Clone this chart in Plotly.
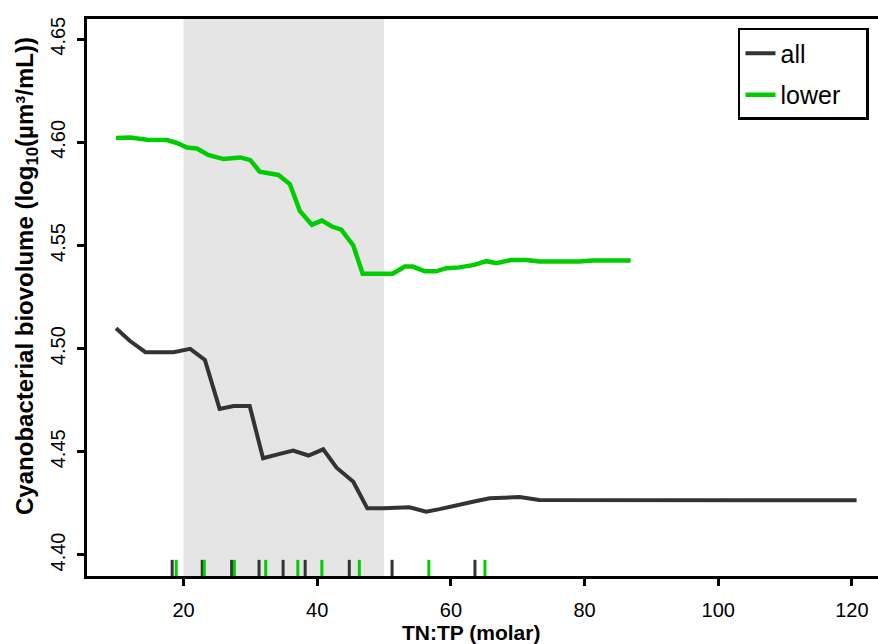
import plotly.graph_objects as go

# ---- data ----
all_x = [9.9, 12.0, 14.3, 18.5, 21.0, 23.2, 25.4, 27.5, 29.9, 31.9, 34.4, 36.4, 38.7,
         40.9, 42.9, 45.4, 47.5, 49.9, 53.8, 56.3, 58.3, 60.8, 63.3, 65.8, 67.3, 70.3,
         73.2, 120.7]
all_y = [4.5099, 4.5037, 4.4983, 4.4983, 4.4999, 4.4945, 4.4708, 4.4722, 4.4722, 4.4469,
         4.4490, 4.4506, 4.4482, 4.4512, 4.4423, 4.4355, 4.4226, 4.4226, 4.4231, 4.4210,
         4.4222, 4.4242, 4.4258, 4.4275, 4.4278, 4.4281, 4.4267, 4.4265]

lower_x = [9.9, 12.0, 14.5, 17.5, 19.0, 20.5, 22.0, 23.7, 26.0, 28.5, 30.0, 31.4, 34.2,
           35.9, 37.4, 39.2, 40.7, 42.2, 43.6, 45.4, 46.8, 51.3, 53.1, 54.3, 56.1, 57.8,
           59.3, 61.3, 63.5, 65.3, 66.8, 69.0, 71.3, 73.2, 79.2, 81.2, 86.9]
lower_y = [4.6021, 4.6024, 4.6013, 4.6011, 4.5997, 4.5975, 4.5970, 4.5939, 4.5919, 4.5927,
           4.5914, 4.5858, 4.5842, 4.5798, 4.5668, 4.5601, 4.5621, 4.5592, 4.5577, 4.5500,
           4.5363, 4.5363, 4.5398, 4.5398, 4.5375, 4.5375, 4.5390, 4.5394, 4.5406, 4.5424,
           4.5414, 4.5430, 4.5430, 4.5422, 4.5422, 4.5427, 4.5427]

rug_all = [18.3, 22.8, 27.2, 31.3, 34.9, 38.2, 44.8, 51.2, 63.6]
rug_lower = [18.9, 23.1, 27.6, 32.3, 37.1, 40.7, 46.3, 56.7, 65.1]

shade_range = [20, 50]

x_ticks = [20, 40, 60, 80, 100, 120]
y_ticks = [4.40, 4.45, 4.50, 4.55, 4.60, 4.65]

series_names = ["all", "lower"]

GRAY = "#333333"
GREEN = "#00CD00"
FONT = "Liberation Sans, Arial, sans-serif"
PAD = "\u00a0\u00a0\u00a0"

fig = go.Figure()

fig.add_vrect(x0=shade_range[0], x1=shade_range[1], fillcolor="#E5E5E5",
              line_width=0, layer="below")

for xv in rug_all:
    fig.add_shape(type="line", xref="x", yref="y domain", x0=xv, x1=xv, y0=0, y1=0.029,
                  line=dict(color=GRAY, width=3))
for xv in rug_lower:
    fig.add_shape(type="line", xref="x", yref="y domain", x0=xv, x1=xv, y0=0, y1=0.029,
                  line=dict(color=GREEN, width=3))

fig.add_trace(go.Scatter(x=all_x, y=all_y, mode="lines", name=series_names[0], legendgroup="a",
                         line=dict(color=GRAY, width=4)))
fig.add_trace(go.Scatter(x=lower_x, y=lower_y, mode="lines", name=series_names[1] + PAD,
                         legendgroup="b", line=dict(color=GREEN, width=4.5)))

fig.update_layout(
    width=878, height=644,
    margin=dict(l=87, r=0, t=19, b=68, autoexpand=False),
    plot_bgcolor="white", paper_bgcolor="white",
    font=dict(family=FONT, size=20, color="black"),
    showlegend=True,
    legend=dict(x=0.823, y=0.984, xanchor="left", yanchor="top",
                bordercolor="black", borderwidth=2.5, bgcolor="white",
                font=dict(size=25), tracegroupgap=6),
)

fig.update_xaxes(range=[5.56, 123.9], tickvals=x_ticks, ticktext=[str(v) for v in x_ticks],
                 showgrid=False, zeroline=False, showline=True, linecolor="black",
                 linewidth=2.5, mirror=True, ticks="outside", ticklen=7, tickwidth=2.5,
                 tickcolor="black", ticklabelstandoff=7, automargin=False)
fig.update_yaxes(range=[4.3898, 4.6598], tickvals=y_ticks,
                 ticktext=[f"{v:.2f}" for v in y_ticks],
                 showgrid=False, zeroline=False, showline=True, linecolor="black",
                 linewidth=2.5, ticks="outside", ticklen=7, tickwidth=2.5,
                 tickcolor="black", tickangle=-90, ticklabelstandoff=4, automargin=False)

fig.add_annotation(text="Cyanobacterial biovolume (log<sub>10</sub>(µm³/mL))",
                   xref="paper", yref="paper", x=-0.0759, y=0.5386, textangle=-90,
                   showarrow=False, xanchor="center", yanchor="middle",
                   font=dict(family=FONT, size=24, color="black", weight="bold"))
fig.add_annotation(text="TN:TP (molar)", xref="paper", yref="paper", x=0.486, y=-0.1023,
                   showarrow=False, xanchor="center", yanchor="middle",
                   font=dict(family=FONT, size=21, color="black", weight="bold"))

fig.write_html("out.html", config={"displayModeBar": False},
               post_script="document.body.style.margin='0px';")
